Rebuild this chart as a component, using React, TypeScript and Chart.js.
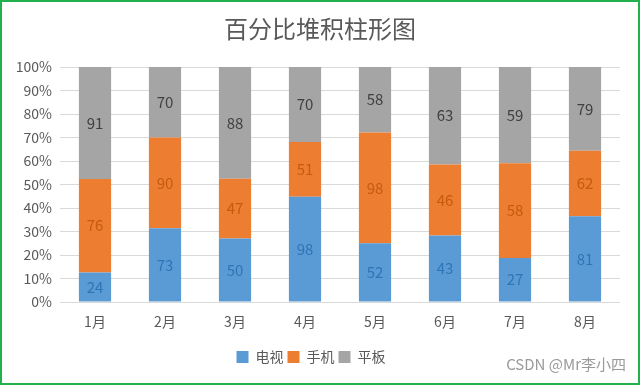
import React, { useEffect, useRef } from "react";
import { Chart, registerables } from "chart.js";

Chart.register(...registerables);

const TITLE = "百分比堆积柱形图";
const categories = ["1月", "2月", "3月", "4月", "5月", "6月", "7月", "8月"];
const seriesNames = ["电视", "手机", "平板"];
const tvValues = [24, 73, 50, 98, 52, 43, 27, 81];
const phoneValues = [76, 90, 47, 51, 98, 46, 58, 62];
const tabletValues = [91, 70, 88, 70, 58, 63, 59, 79];
const yTicks = [0, 10, 20, 30, 40, 50, 60, 70, 80, 90, 100];

const seriesColors = ["#5B9BD5", "#ED7D31", "#A5A5A5"];
const labelColors = ["#2E75B6", "#C55A11", "#404040"];
const FONT = "'Noto Sans CJK SC', 'Noto Sans', sans-serif";

export default function App() {
  const ref = useRef<HTMLCanvasElement | null>(null);

  useEffect(() => {
    if (!ref.current) return;
    const raw = [tvValues, phoneValues, tabletValues];
    const totals = categories.map((_, i) => raw.reduce((s, arr) => s + arr[i], 0));
    const pct = raw.map((arr) => arr.map((v, i) => (v / totals[i]) * 100));

    const valueLabels = {
      id: "valueLabels",
      afterDatasetsDraw(chart: any) {
        const ctx = chart.ctx;
        ctx.save();
        ctx.font = `15px ${FONT}`;
        ctx.textAlign = "center";
        ctx.textBaseline = "middle";
        chart.data.datasets.forEach((ds: any, di: number) => {
          const meta = chart.getDatasetMeta(di);
          meta.data.forEach((bar: any, i: number) => {
            const y = (bar.y + bar.base) / 2;
            ctx.fillStyle = labelColors[di];
            ctx.fillText(String(raw[di][i]), bar.x, y);
          });
        });
        ctx.restore();
      },
    };

    const chart = new Chart(ref.current, {
      type: "bar",
      data: {
        labels: categories,
        datasets: seriesNames.map((name, di) => ({
          label: name,
          data: pct[di],
          backgroundColor: seriesColors[di],
          borderWidth: 0,
          barPercentage: 0.46,
          categoryPercentage: 1,
        })),
      },
      options: {
        animation: false,
        responsive: false,
        devicePixelRatio: 1,
        layout: { padding: { left: 2, right: 20, top: 67, bottom: 11 } },
        plugins: {
          title: { display: false },
          legend: {
            position: "bottom",
            labels: {
              color: "#595959",
              font: { family: FONT, size: 14 },
              boxWidth: 12,
              boxHeight: 12,
              padding: 4,
            },
          },
          tooltip: { enabled: false },
        },
        scales: {
          x: {
            stacked: true,
            grid: { display: false, drawTicks: false },
            border: { display: false },
            ticks: { color: "#595959", font: { family: FONT, size: 14 }, padding: 11 },
            afterFit: (s: any) => {
              s.height = 44;
            },
          },
          y: {
            stacked: true,
            min: 0,
            max: 100,
            afterBuildTicks: (s: any) => {
              s.ticks = yTicks.map((v) => ({ value: v }));
            },
            grid: { color: "#D9D9D9", drawTicks: false, lineWidth: 1 },
            border: { display: false },
            ticks: {
              color: "#595959",
              font: { family: FONT, size: 14 },
              padding: 8,
              callback: (v: any) => `${v}%`,
            },
            afterFit: (s: any) => {
              s.width = 58;
            },
          },
        },
      },
      plugins: [valueLabels],
    });
    return () => chart.destroy();
  }, []);

  return (
    <div
      style={{
        position: "fixed",
        left: 0,
        top: 0,
        width: 640,
        height: 385,
        background: "#fff",
        boxSizing: "border-box",
      }}
    >
      <canvas ref={ref} width={640} height={385} style={{ position: "absolute", left: 0, top: 0 }} />
      <div
        style={{
          position: "absolute",
          left: 0,
          top: 13,
          width: 640,
          textAlign: "center",
          fontFamily: FONT,
          fontSize: 24,
          lineHeight: "30px",
          color: "#595959",
          whiteSpace: "nowrap",
        }}
      >
        {TITLE}
      </div>
      <div
        style={{
          position: "absolute",
          right: 14,
          top: 355,
          fontFamily: FONT,
          fontSize: 15,
          color: "#9a9a9a",
          lineHeight: "18px",
          whiteSpace: "nowrap",
        }}
      >
        CSDN @Mr李小四
      </div>
      <div
        style={{
          position: "absolute",
          left: 0,
          top: 0,
          width: 640,
          height: 385,
          boxSizing: "border-box",
          border: "2px solid #22B14C",
          pointerEvents: "none",
        }}
      />
    </div>
  );
}
